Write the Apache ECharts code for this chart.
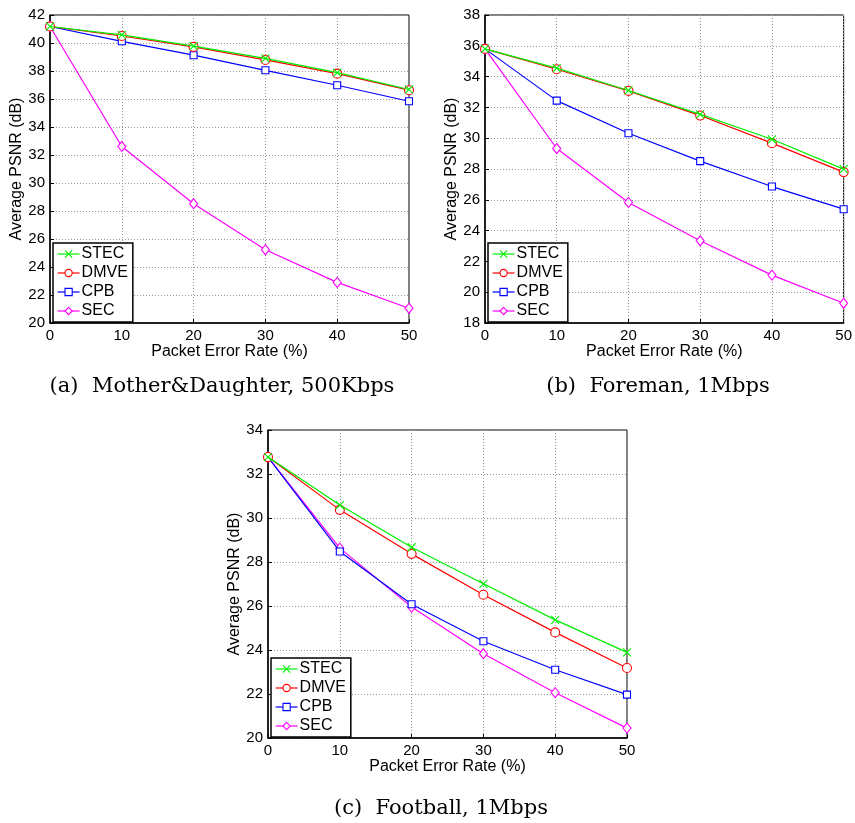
<!DOCTYPE html>
<html>
<head>
<meta charset="utf-8">
<script src="https://cdn.jsdelivr.net/npm/echarts@6/dist/echarts.min.js"></script>
<style>
html,body{margin:0;padding:0;background:#fff;}
#chart{width:855px;height:823px;}
</style>
</head>
<body>
<div id="chart"></div>
<script>
// Packet error rate (%) on the x axis
var errorRates = [0, 10, 20, 30, 40, 50];
var methods = ['STEC', 'DMVE', 'CPB', 'SEC'];

// (a) Mother&Daughter, 500Kbps
var mdSTEC = [41.18, 40.58, 39.78, 38.90, 37.88, 36.68];
var mdDMVE = [41.18, 40.50, 39.72, 38.79, 37.81, 36.63];
var mdCPB  = [41.18, 40.12, 39.13, 38.05, 36.98, 35.84];
var mdSEC  = [41.18, 32.61, 28.52, 25.23, 22.90, 21.05];

// (b) Foreman, 1Mbps
var fmSTEC = [35.80, 34.55, 33.10, 31.55, 29.93, 27.99];
var fmDMVE = [35.80, 34.48, 33.07, 31.47, 29.68, 27.80];
var fmCPB  = [35.80, 32.44, 30.32, 28.51, 26.86, 25.39];
var fmSEC  = [35.80, 29.33, 25.83, 23.34, 21.11, 19.28];

// (c) Football, 1Mbps
var fbSTEC = [32.77, 30.59, 28.67, 27.01, 25.37, 23.89];
var fbDMVE = [32.77, 30.37, 28.37, 26.51, 24.80, 23.18];
var fbCPB  = [32.77, 28.48, 26.08, 24.40, 23.10, 21.97];
var fbSEC  = [32.77, 28.63, 25.95, 23.83, 22.06, 20.45];

var captions = ['(a)  Mother&Daughter, 500Kbps', '(b)  Foreman, 1Mbps', '(c)  Football, 1Mbps'];
var yRanges = [[20, 42], [18, 38], [20, 34]];

var panels = [
  { data: [mdSTEC, mdDMVE, mdCPB, mdSEC], grid: {left: 50, top: 15, width: 359, height: 308}, legend: {left: 53, top: 243}, caption: {x: 217, y: 371} },
  { data: [fmSTEC, fmDMVE, fmCPB, fmSEC], grid: {left: 485, top: 15, width: 359, height: 308}, legend: {left: 488, top: 243}, caption: {x: 653, y: 371} },
  { data: [fbSTEC, fbDMVE, fbCPB, fbSEC], grid: {left: 268, top: 430, width: 359, height: 308}, legend: {left: 271, top: 658}, caption: {x: 436, y: 793} }
];

var colors = ['#00ee00', '#ff0000', '#0000ff', '#ff00ff'];
var symbols = ['path://M0,0L10,10M10,0L0,10', 'circle', 'rect', 'diamond'];
var symbolSizes = [8, 9, 7, [8, 10]];

var sansFont = 'Liberation Sans, Arial, sans-serif';

var option = {
  backgroundColor: '#fff',
  animation: false,
  grid: [], xAxis: [], yAxis: [], series: [], legend: [], title: []
};

panels.forEach(function (p, i) {
  option.grid.push(Object.assign({ show: true, borderColor: '#000', borderWidth: 1, backgroundColor: '#fff' }, p.grid));
  option.xAxis.push({
    type: 'value', gridIndex: i, min: 0, max: 50, interval: 10,
    name: 'Packet Error Rate (%)', nameLocation: 'middle', nameGap: 21,
    nameTextStyle: { fontFamily: sansFont, fontSize: 16, color: '#000' },
    axisLine: { show: true, onZero: false, lineStyle: { color: '#000', width: 1.5 } },
    axisTick: { show: true, inside: true, length: 4, lineStyle: { color: '#000' } },
    axisLabel: { fontFamily: sansFont, fontSize: 15, color: '#000', margin: 5 },
    splitLine: { show: true, lineStyle: { type: [1, 2], color: '#999', width: 1 } }
  });
  option.yAxis.push({
    type: 'value', gridIndex: i, min: yRanges[i][0], max: yRanges[i][1], interval: 2,
    name: 'Average PSNR (dB)', nameLocation: 'middle', nameGap: 24,
    nameTextStyle: { fontFamily: sansFont, fontSize: 16, color: '#000' },
    axisLine: { show: true, onZero: false, lineStyle: { color: '#000', width: 1.5 } },
    axisTick: { show: true, inside: true, length: 4, lineStyle: { color: '#000' } },
    axisLabel: { fontFamily: sansFont, fontSize: 15, color: '#000', margin: 5 },
    splitLine: { show: true, lineStyle: { type: [1, 2], color: '#999', width: 1 } }
  });
  methods.forEach(function (m, k) {
    option.series.push({
      name: m, type: 'line', xAxisIndex: i, yAxisIndex: i,
      data: errorRates.map(function (x, j) { return [x, p.data[k][j]]; }),
      symbol: symbols[k], symbolSize: symbolSizes[k], showSymbol: true,
      lineStyle: { color: colors[k], width: 1.2 },
      itemStyle: { color: '#fff', borderColor: colors[k], borderWidth: 1.1 },
      z: 10 - k
    });
  });
  option.legend.push({
    data: methods, orient: 'vertical', left: p.legend.left, top: p.legend.top,
    itemWidth: 22, itemHeight: 9, itemGap: 3,
    padding: [3, 5, 3, 4], borderColor: '#000', borderWidth: 1.5, backgroundColor: '#fff',
    lineStyle: { width: 1.2 },
    itemStyle: { borderWidth: 1.1 },
    textStyle: { fontFamily: sansFont, fontSize: 16, color: '#000', lineHeight: 16, padding: [0, 0, 0, -3] },
    selectedMode: false
  });
  option.title.push({
    text: captions[i], left: p.caption.x, top: p.caption.y, textAlign: 'center',
    textStyle: { fontFamily: 'DejaVu Serif, serif', fontWeight: 'normal', fontSize: 21, color: '#000' }
  });
});

var chart = echarts.init(document.getElementById('chart'), null, { renderer: 'canvas' });
chart.setOption(option);
</script>
</body>
</html>
